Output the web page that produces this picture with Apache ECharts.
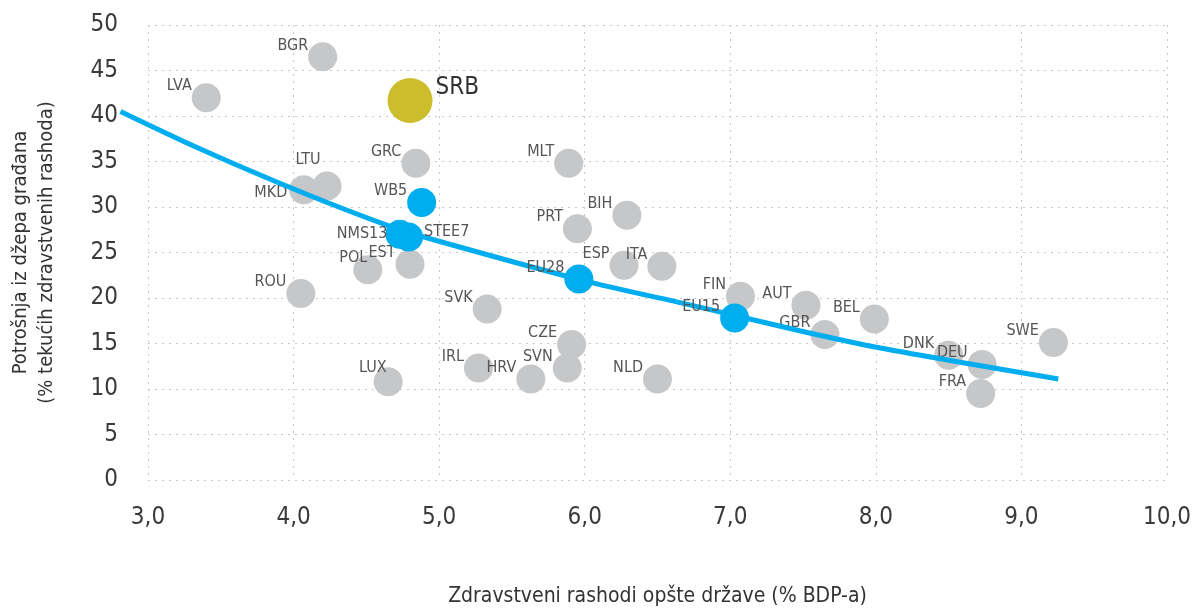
<!DOCTYPE html>
<html>
<head>
<meta charset="utf-8">
<script src="https://cdn.jsdelivr.net/npm/echarts@6/dist/echarts.min.js"></script>
<style>
html,body{margin:0;padding:0;background:#fff}
#container{width:1194px;height:612px}
</style>
</head>
<body>
<div id="container"></div>
<script>
// zemlje (sivi krugovi)
var countryNames = ['LVA','BGR','GRC','MLT','LTU','MKD','EST','POL','ROU','SVK','LUX','IRL','HRV','SVN','CZE','PRT','BIH','ESP','ITA','NLD','FIN','AUT','GBR','BEL','DNK','DEU','FRA','SWE'];
var countryX = [3.40,4.20,4.84,5.89,4.23,4.07,4.80,4.51,4.05,5.33,4.65,5.27,5.63,5.88,5.91,5.95,6.29,6.27,6.53,6.50,7.07,7.52,7.65,7.99,8.50,8.73,8.72,9.22];
var countryY = [42.0,46.5,34.8,34.8,32.3,31.9,23.7,23.1,20.5,18.8,10.8,12.3,11.1,12.3,14.9,27.6,29.1,23.6,23.5,11.1,20.2,19.2,16.0,17.7,13.7,12.7,9.5,15.1];

// proseci grupa (plavi krugovi)
var groupNames = ['WB5','NMS13','STEE7','EU28','EU15'];
var groupX = [4.88,4.73,4.79,5.96,7.03];
var groupY = [30.5,27.0,26.7,22.1,17.8];

// Srbija
var srbName = 'SRB';
var srbX = 4.80;
var srbY = 41.7;

// trend linija (ocitano sa slike), pocinje levo od 3,0
var trendX = [2.84,3.38,4.06,4.67,4.97,5.97,6.78,7.46,8.01,9.22];
var trendY = [40.5,36.4,31.7,27.9,26.4,22.0,19.0,16.4,14.5,11.1];

var FONT = "'Liberation Sans Narrow', 'DejaVu Sans Condensed', Roboto, sans-serif";

// posebni polozaji natpisa
var labelSpecial = {
  'LTU': {position: 'top', distance: 5, offset: [-19, -7], align: 'center'},
  'MKD': {position: 'left', distance: 2, offset: [0, 3], align: 'right'},
  'LUX': {position: [13, 1]},
  'POL': {position: [14, 2.5]},
  'NMS13': {position: 'left', distance: 1, offset: [3, 0], align: 'right'},
  'STEE7': {position: 'right', distance: 1, offset: [0, -5], align: 'left'}
};

function makeItems(names, xs, ys) {
  return names.map(function (n, i) {
    var item = {name: n, value: [xs[i], ys[i]]};
    if (labelSpecial[n]) item.label = labelSpecial[n];
    return item;
  });
}

var baseLabel = {
  show: true,
  formatter: '{b}',
  position: [0, 3],
  align: 'right',
  verticalAlign: 'middle',
  fontFamily: FONT,
  fontSize: 16,
  color: '#555'
};

var dom = document.getElementById('container');
var myChart = echarts.init(dom, null, {renderer: 'canvas'});

// px po jedinici x ose: (1194-144-21)/7
var pxPerUnit = (1194 - 144 - 21) / 7;

var option = {
  animation: false,
  backgroundColor: '#fff',
  grid: [
    {left: 144, right: 21, top: 25, bottom: 132},
    // druga mreza samo za trend liniju, prosirena ulevo do 2,8
    {left: 144 - 0.2 * pxPerUnit, right: 21, top: 25, bottom: 132}
  ],
  xAxis: [{
    type: 'value',
    gridIndex: 0,
    min: 3, max: 10, interval: 1,
    name: 'Zdravstveni rashodi opšte države (% BDP-a)',
    nameLocation: 'middle',
    nameGap: 106,
    nameTextStyle: {fontFamily: FONT, fontSize: 21, color: '#333'},
    axisLine: {show: false},
    axisTick: {show: false},
    axisLabel: {
      margin: 26, fontFamily: FONT, fontSize: 24, color: '#3a3a3a',
      formatter: function (v) { return v.toFixed(1).replace('.', ','); }
    },
    splitLine: {show: true, lineStyle: {color: '#c8c8c8', type: [2, 5], width: 1}}
  }, {
    type: 'value',
    gridIndex: 1,
    min: 2.8, max: 10,
    show: false,
    splitLine: {show: false}
  }],
  yAxis: [{
    type: 'value',
    gridIndex: 0,
    min: 0, max: 50, interval: 5,
    name: 'Potrošnja iz džepa građana\n(% tekućih zdravstvenih rashoda)',
    nameLocation: 'middle',
    nameGap: 88,
    nameRotate: 90,
    nameTextStyle: {fontFamily: FONT, fontSize: 20, color: '#333', lineHeight: 26},
    axisLine: {show: false},
    axisTick: {show: false},
    axisLabel: {margin: 30, fontFamily: FONT, fontSize: 24, color: '#3a3a3a'},
    splitLine: {show: true, lineStyle: {color: '#c8c8c8', type: [2, 5], width: 1}}
  }, {
    type: 'value',
    gridIndex: 1,
    min: 0, max: 50,
    show: false,
    splitLine: {show: false}
  }],
  series: [
    {
      type: 'scatter',
      z: 2,
      symbolSize: 29,
      itemStyle: {color: '#c6c7c9', opacity: 1},
      label: baseLabel,
      data: makeItems(countryNames, countryX, countryY)
    },
    {
      type: 'line',
      xAxisIndex: 1,
      yAxisIndex: 1,
      z: 3,
      smooth: 0.3,
      showSymbol: false,
      lineStyle: {color: '#00adee', width: 5},
      data: trendX.map(function (x, i) { return [x, trendY[i]]; })
    },
    {
      type: 'scatter',
      z: 4,
      symbolSize: 29,
      itemStyle: {color: '#00adee', opacity: 1},
      label: baseLabel,
      data: makeItems(groupNames, groupX, groupY)
    },
    {
      type: 'scatter',
      z: 5,
      symbolSize: 45,
      itemStyle: {color: '#cbbd2c', opacity: 1},
      label: {
        show: true, formatter: '{b}', position: 'right', distance: 3, offset: [0, -13],
        fontFamily: FONT, fontSize: 24, color: '#333'
      },
      data: [{name: srbName, value: [srbX, srbY]}]
    }
  ]
};

myChart.setOption(option);
window.addEventListener('resize', function () {
  myChart.resize();
});
</script>
</body>
</html>
